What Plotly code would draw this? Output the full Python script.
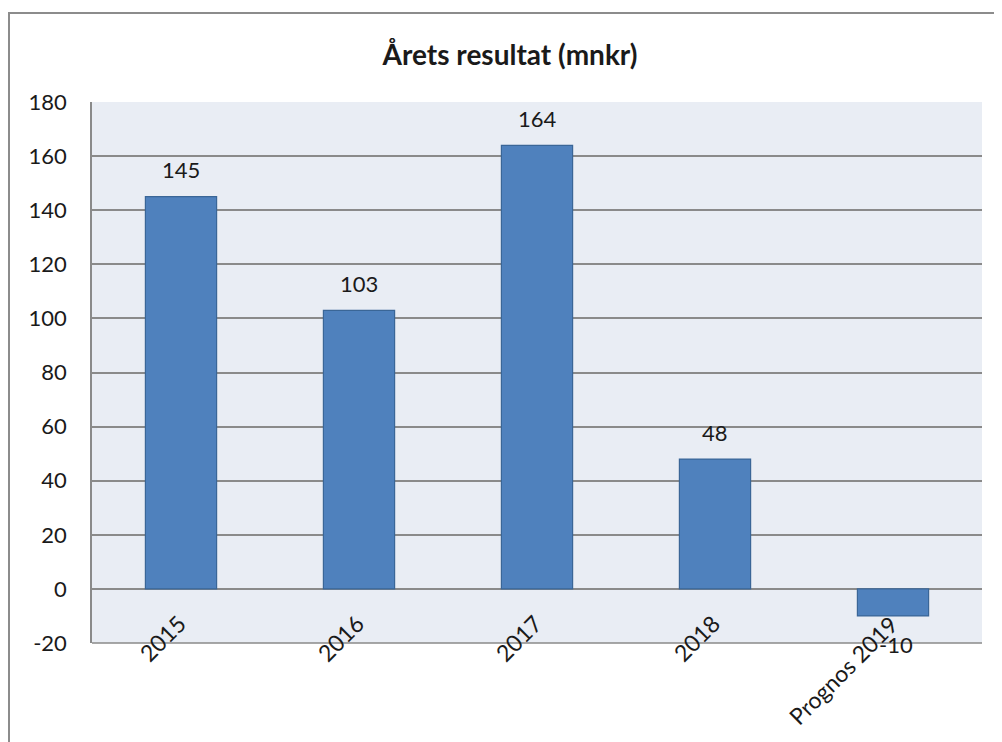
import plotly.graph_objects as go

categories = ["2015", "2016", "2017", "2018", "Prognos 2019"]
values = [145, 103, 164, 48, -10]
y_ticks = [-20, 0, 20, 40, 60, 80, 100, 120, 140, 160, 180]
y_tick_text = ["-20", "0", "20", "40", "60", "80", "100", "120", "140", "160", "180"]

FONT = "Lato, 'Open Sans', sans-serif"
TXT = "#1a1a1a"

fig = go.Figure()
fig.add_trace(go.Bar(
    x=list(range(len(categories))), y=values, width=0.4,
    marker=dict(color="#4f81bd", line=dict(color="#3a6697", width=1.2)),
    customdata=categories, hovertemplate="%{customdata}: %{y}<extra></extra>",
))

annotations = []
for i, (c, v) in enumerate(zip(categories, values)):
    annotations.append(dict(
        x=i, y=v, xref="x", yref="y", text=str(v), showarrow=False,
        xanchor="center", yanchor="middle",
        yshift=27 if v >= 0 else -29, xshift=0 if v >= 0 else 3,
        font=dict(family=FONT, size=22, color=TXT),
    ))
    annotations.append(dict(
        x=i, y=0, xref="x", yref="y", text=c, showarrow=False,
        xanchor="right", yanchor="top", textangle=-45,
        xshift=13, yshift=-18,
        font=dict(family=FONT, size=23, color=TXT),
    ))

W, H = 994, 734
L, R, T, B = 84, 20, 94, 99
PW, PH = W - L - R, H - T - B

fig.update_layout(
    width=W, height=H,
    margin=dict(l=L, r=R, t=T, b=B),
    paper_bgcolor="white",
    plot_bgcolor="#e9edf4",
    showlegend=False,
    title=dict(
        text="<b>Årets resultat (mnkr)</b>",
        x=(510 - 8) / W, xanchor="center", y=1 - 47 / H, yanchor="middle",
        font=dict(family=FONT, size=28, color=TXT),
    ),
    xaxis=dict(
        range=[-0.5, 4.5],
        showticklabels=False, showgrid=False, zeroline=False,
        showline=False, ticks="",
    ),
    yaxis=dict(
        range=[-20, 180], tickvals=y_ticks, ticktext=y_tick_text,
        showgrid=True, gridcolor="#8a8a8a", gridwidth=1.5,
        zeroline=True, zerolinecolor="#8a8a8a", zerolinewidth=1.5,
        showline=True, linecolor="#8a8a8a", linewidth=1.5,
        ticks="", ticklabelstandoff=19,
        tickfont=dict(family=FONT, size=22, color=TXT),
    ),
    annotations=annotations,
    shapes=[
        dict(type="line", xref="paper", yref="paper",
             x0=0, x1=1, y0=0, y1=0,
             line=dict(color="#8a8a8a", width=1.5)),
        dict(type="rect", xref="paper", yref="paper",
             x0=(1 - L) / PW, x1=1 + (R + 40) / PW,
             y0=-(B + 40) / PH, y1=1 + (T - 5) / PH,
             line=dict(color="#8c8c8c", width=2), fillcolor="rgba(0,0,0,0)",
             layer="below"),
    ],
)

fig.write_html("out.html")
